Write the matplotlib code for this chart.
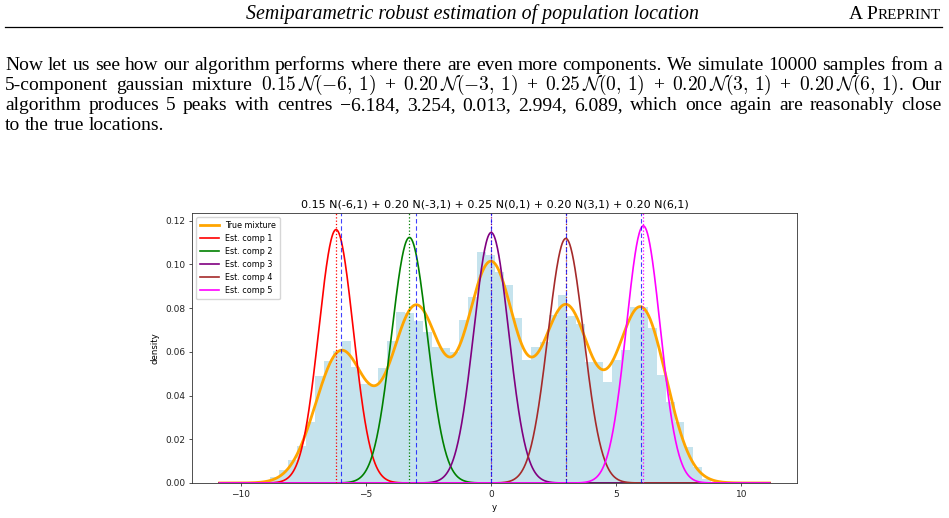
import numpy as np
import matplotlib
matplotlib.use("Agg")
import matplotlib.pyplot as plt
from matplotlib.transforms import IdentityTransform
from matplotlib.lines import Line2D

# ---------------- data ----------------
true_weights = [0.15, 0.20, 0.25, 0.20, 0.20]
true_means = [-6, -3, 0, 3, 6]
true_sds = [1, 1, 1, 1, 1]

est_means = [-6.184, -3.254, 0.013, 2.994, 6.089]
est_weights = [0.2, 0.2, 0.2, 0.2, 0.2]
est_sds = [0.688, 0.710, 0.696, 0.713, 0.678]
est_colors = ["red", "green", "purple", "brown", "magenta"]
est_labels = ["Est. comp 1", "Est. comp 2", "Est. comp 3", "Est. comp 4", "Est. comp 5"]

hist_left = -8.81
hist_width = 0.3594
hist_heights = [0.0026, 0.0059, 0.0105, 0.0168, 0.0278, 0.0491, 0.0560, 0.0605,
                0.0648, 0.0530, 0.0455, 0.0444, 0.0528, 0.0652, 0.0782, 0.0778,
                0.0741, 0.0690, 0.0623, 0.0620, 0.0598, 0.0744, 0.0852, 0.1055,
                0.1044, 0.0964, 0.0908, 0.0753, 0.0564, 0.0622, 0.0646, 0.0771,
                0.0860, 0.0762, 0.0728, 0.0554, 0.0554, 0.0462, 0.0561, 0.0607,
                0.0805, 0.0805, 0.0708, 0.0494, 0.0371, 0.0280, 0.0163, 0.0071,
                0.0018, 0.0004]
grid_min, grid_max = -10.84, 11.13

title = "0.15 N(-6,1) + 0.20 N(-3,1) + 0.25 N(0,1) + 0.20 N(3,1) + 0.20 N(6,1)"

header_title = "Semiparametric robust estimation of population location"
line1 = ["Now", "let", "us", "see", "how", "our", "algorithm", "performs", "where", "there", "are",
         "even", "more", "components.", "We", "simulate", "10000", "samples", "from", "a"]
line2 = ["5-component", "gaussian", "mixture",
         r"$0.15\,\mathcal{N}(-6,\,1)$", "+", r"$0.20\,\mathcal{N}(-3,\,1)$", "+",
         r"$0.25\,\mathcal{N}(0,\,1)$", "+", r"$0.20\,\mathcal{N}(3,\,1)$", "+",
         r"$0.20\,\mathcal{N}(6,\,1)$.", "Our"]
line3 = ["algorithm", "produces", "5", "peaks", "with", "centres", "\u22126.184,", "3.254,",
         "0.013,", "2.994,", "6.089,", "which", "once", "again", "are", "reasonably", "close"]
line4 = ["to", "the", "true", "locations."]

# ---------------- figure ----------------
W, H = 949, 518
fig = plt.figure(figsize=(W / 100, H / 100), dpi=100)
plt.rcParams["mathtext.fontset"] = "cm"
renderer = fig.canvas.get_renderer()
ident = IdentityTransform()
SERIF = "Liberation Serif"
X0, X1 = 5, 942


def text_width(s, size, **kw):
    t = fig.text(0, 0, s, fontsize=size, family=SERIF, **kw)
    w = t.get_window_extent(renderer).width
    t.remove()
    return w


def place_line(tokens, size, y_img, justify=True):
    texts = [fig.text(0, 0, t, transform=ident, fontsize=size, family=SERIF,
                      va="baseline", ha="left") for t in tokens]
    widths = [t.get_window_extent(renderer).width for t in texts]
    if justify and len(tokens) > 1:
        gap = (X1 - X0 - sum(widths)) / (len(tokens) - 1)
    else:
        gap = text_width("a b", size) - text_width("ab", size)
    x = X0
    for t, w in zip(texts, widths):
        t.set_position((x, H - y_img))
        x += w + gap


# body font size: first line with normal spacing fills the text width
w12 = text_width(" ".join(line1), 12)
body_size = 12 * 930 / w12

# header
ht = fig.text(0, 0, header_title, transform=ident, fontsize=12, family=SERIF,
              style="italic", va="baseline", ha="left")
w = ht.get_window_extent(renderer).width
ht.set_fontsize(12 * 452 / w)
ht.set_position((246, H - 19))

# "A PREPRINT" in small caps, right aligned
parts = [("A P", body_size), ("REPRINT", body_size * 0.78)]
pt = [fig.text(0, 0, p, transform=ident, fontsize=s, family=SERIF, va="baseline")
      for p, s in parts]
pw = [t.get_window_extent(renderer).width for t in pt]
x = 941 - sum(pw)
for t, wd in zip(pt, pw):
    t.set_position((x, H - 19))
    x += wd

fig.add_artist(Line2D([5, 942], [H - 27, H - 27], transform=ident, color="black", lw=0.9))

place_line(line1, body_size, 70)
place_line(line2, body_size, 90)
place_line(line3, body_size, 110)
place_line(line4, body_size, 130, justify=False)

# ---------------- chart ----------------
ax = fig.add_axes([192 / W, (H - 483) / H, 605 / W, 270 / H])

edges = hist_left + hist_width * np.arange(len(hist_heights))
ax.bar(edges, hist_heights, width=hist_width, align="edge", color="lightblue",
       alpha=0.7, linewidth=0)

xs = np.linspace(grid_min, grid_max, 1200)


def npdf(x, m, s):
    return np.exp(-0.5 * ((x - m) / s) ** 2) / (s * np.sqrt(2 * np.pi))


mix = np.zeros_like(xs)
for wgt, m, s in zip(true_weights, true_means, true_sds):
    mix += wgt * npdf(xs, m, s)
ax.plot(xs, mix, color="orange", lw=2.0, label="True mixture")
for wgt, m, s, c, lab in zip(est_weights, est_means, est_sds, est_colors, est_labels):
    ax.plot(xs, wgt * npdf(xs, m, s), color=c, lw=1.2, label=lab)

for m, c in zip(est_means, est_colors):
    ax.axvline(m, color=c, ls=":", lw=0.9)
for m in true_means:
    ax.axvline(m, color="blue", ls="--", lw=0.8, alpha=0.75, dashes=(4, 2.5))

ax.set_title(title, fontsize=8.0, pad=4)
ax.set_xlabel("y", fontsize=6.2, labelpad=3)
ax.set_ylabel("density", fontsize=6.2, labelpad=4)
ax.tick_params(labelsize=6.5, length=2.5, width=0.6, pad=2.5, colors="#333333",
               labelcolor="#222222")
for sp in ax.spines.values():
    sp.set_linewidth(0.6)
    sp.set_color("#333333")
ax.set_yticks([0.0, 0.02, 0.04, 0.06, 0.08, 0.10, 0.12])
ax.set_xticks([-10, -5, 0, 5, 10])
ax.set_yticklabels(["0.00", "0.02", "0.04", "0.06", "0.08", "0.10", "0.12"])
ax.set_xticklabels(["\u221210", "\u22125", "0", "5", "10"])
ax.legend(loc="upper left", fontsize=5.8, handlelength=2.3, borderpad=0.5,
          labelspacing=0.5, framealpha=0.8, edgecolor="#cccccc")

fig.savefig("out.png", dpi=100)
